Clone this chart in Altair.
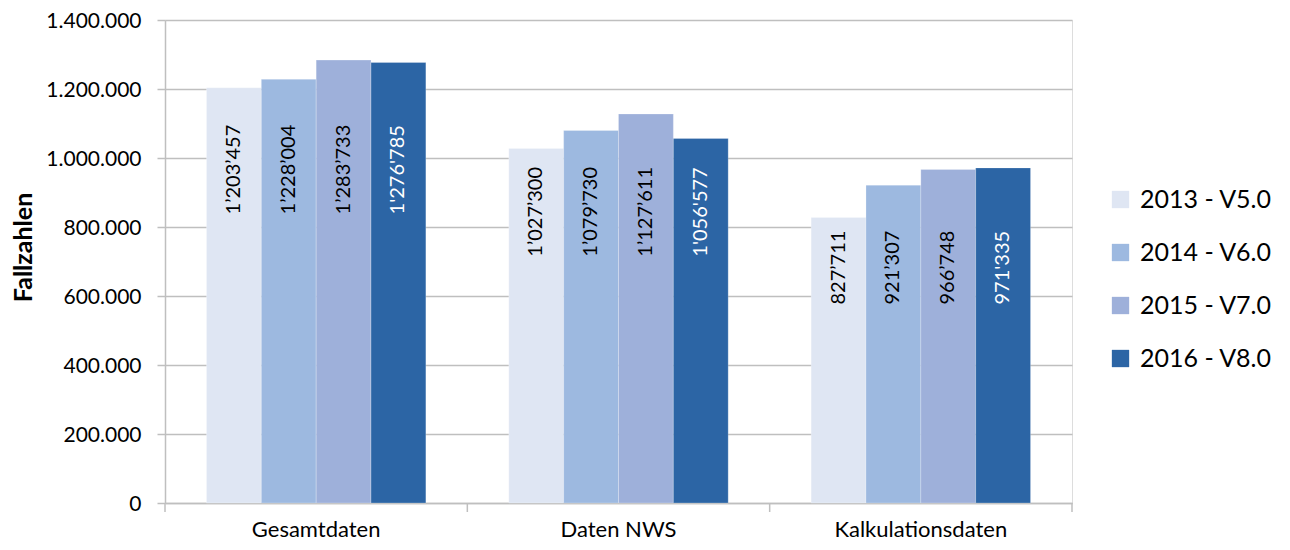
import altair as alt
import pandas as pd

categories = ["Gesamtdaten", "Daten NWS", "Kalkulationsdaten"]
series = ["2013 - V5.0", "2014 - V6.0", "2015 - V7.0", "2016 - V8.0"]
v2013 = [1203457, 1027300, 827711]
v2014 = [1228004, 1079730, 921307]
v2015 = [1283733, 1127611, 966748]
v2016 = [1276785, 1056577, 971335]
colors = ["#DFE6F3", "#9DB9E0", "#9EB0DA", "#2C65A5"]
y_ticks = [0, 200000, 400000, 600000, 800000, 1000000, 1200000, 1400000]

rows = []
for s, vals in zip(series, [v2013, v2014, v2015, v2016]):
    for c, v in zip(categories, vals):
        rows.append({"Kategorie": c, "Serie": s, "Wert": v})
df = pd.DataFrame(rows)

FONT = "Lato"
GRID = "#BFBFBF"

x_enc = alt.X("Kategorie:N", sort=categories,
              scale=alt.Scale(paddingInner=0, paddingOuter=0),
              axis=alt.Axis(title=None, ticks=False, domain=True, domainColor=GRID,
                            domainWidth=1.5, labelFont=FONT, labelFontSize=22,
                            labelColor="#000000", labelPadding=16, labelAngle=0))
xoff_enc = alt.XOffset("Serie:N", sort=series,
                       scale=alt.Scale(paddingInner=0, paddingOuter=0.756))
y_enc = alt.Y("Wert:Q", scale=alt.Scale(domain=[0, 1400000], nice=False),
              axis=alt.Axis(title="Fallzahlen", values=y_ticks,
                            labelExpr="replace(format(datum.value, ','), regexp(',', 'g'), '.')",
                            labelFont=FONT, labelFontSize=21, labelColor="#000000",
                            labelPadding=16, labelOffset=1, tickSize=8, tickColor=GRID,
                            tickWidth=1.5, domainColor=GRID, domainWidth=1.5,
                            grid=True, gridColor=GRID, gridWidth=1.5,
                            titleFont=FONT, titleFontSize=25, titleFontWeight="bold",
                            titleColor="#000000", titleAngle=270, titleX=-142, titleY=227,
                            titleAlign="center", titleBaseline="middle"))

bars = alt.Chart(df).mark_bar(stroke="#FFFFFF", strokeWidth=0.4, strokeOpacity=0.6).encode(
    x=x_enc,
    xOffset=xoff_enc,
    y=y_enc,
    color=alt.Color("Serie:N", sort=series,
                    scale=alt.Scale(domain=series, range=colors),
                    legend=alt.Legend(title=None, orient="none", legendX=943, legendY=167,
                                      symbolType="square", symbolSize=300,
                                      symbolStrokeWidth=0, labelFont=FONT,
                                      labelFontSize=25, labelColor="#000000",
                                      labelOffset=7, rowPadding=27, padding=0)),
)

labels = alt.Chart(df).transform_joinaggregate(
    minv="min(Wert)", groupby=["Kategorie"]
).transform_calculate(
    pos="datum.minv * 0.695",
    label="replace(format(datum.Wert, ','), regexp(',', 'g'), datum.Serie == '2016 - V8.0' ? \"'\" : '\u2019')",
).mark_text(angle=270, align="left", baseline="middle", font=FONT, fontSize=20).encode(
    x=alt.X("Kategorie:N", sort=categories),
    xOffset=alt.XOffset("Serie:N", sort=series),
    y=alt.Y("pos:Q"),
    text="label:N",
    color=alt.condition("datum.Serie == '2016 - V8.0'", alt.value("#FFFFFF"), alt.value("#000000")),
)

cat_df = pd.DataFrame({"Kategorie": categories})
ticks_start = alt.Chart(cat_df).mark_rule(color=GRID, strokeWidth=1.5).encode(
    x=alt.X("Kategorie:N", sort=categories, bandPosition=0),
    y=alt.value(483), y2=alt.value(492),
)
ticks_end = alt.Chart(cat_df.tail(1)).mark_rule(color=GRID, strokeWidth=1.5).encode(
    x=alt.X("Kategorie:N", sort=categories, bandPosition=1),
    y=alt.value(483), y2=alt.value(492),
)

chart = alt.layer(bars, labels, ticks_start, ticks_end).properties(
    width=907, height=483,
    autosize=alt.AutoSizeParams(type="none"),
    padding={"left": 157, "top": 12, "right": 210, "bottom": 40},
).configure_view(stroke=None).configure(background="#FFFFFF")

chart.save("out.html", embed_options={"renderer": "svg", "actions": False})
